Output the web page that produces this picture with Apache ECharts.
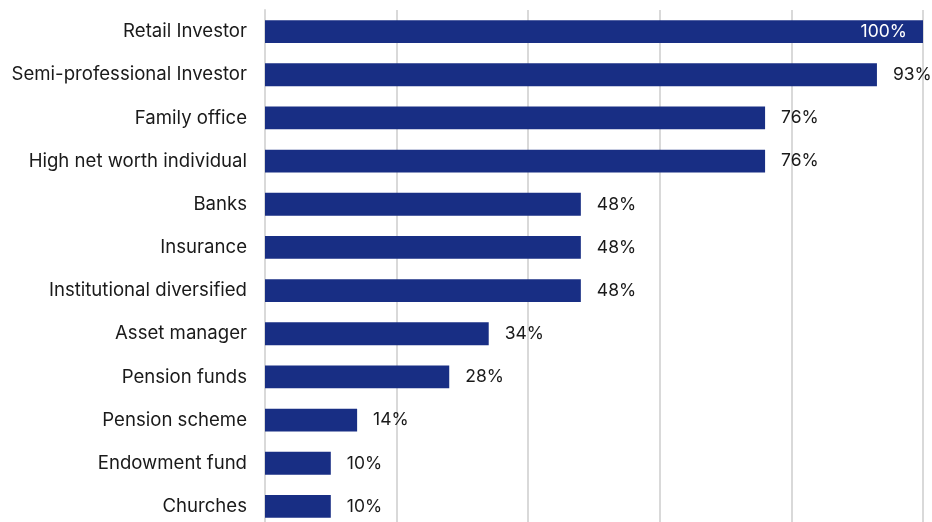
<!DOCTYPE html>
<html>
<head>
<meta charset="utf-8">
<style>
  html, body { margin: 0; padding: 0; background: #ffffff; }
  #chart { width: 932px; height: 522px; }
</style>
<script src="https://cdn.jsdelivr.net/npm/echarts@6/dist/echarts.min.js"></script>
</head>
<body>
<div id="chart"></div>
<script>
// Investor types, listed top to bottom
const categories = [
  'Retail Investor',
  'Semi-professional Investor',
  'Family office',
  'High net worth individual',
  'Banks',
  'Insurance',
  'Institutional diversified',
  'Asset manager',
  'Pension funds',
  'Pension scheme',
  'Endowment fund',
  'Churches'
];
// Share of respondents, percent
const shares = [100, 93, 76, 76, 48, 48, 48, 34, 28, 14, 10, 10];

const barColor = '#182e84';
const textColor = '#1a1a1a';
const fontFamily = 'Inter, "Noto Sans", sans-serif';

const chart = echarts.init(document.getElementById('chart'));

const data = shares.map(function (v) {
  const item = { value: v };
  if (v >= 100) {
    item.label = { position: 'insideRight', color: '#ffffff', distance: 16 };
  }
  return item;
});

chart.setOption({
  animation: false,
  grid: { left: 265, right: 9, top: 10, height: 518, outerBoundsMode: 'none' },
  xAxis: {
    type: 'value',
    min: 0,
    max: 100,
    interval: 20,
    axisLabel: { show: false },
    axisTick: { show: false },
    axisLine: { show: false },
    splitLine: { show: true, lineStyle: { color: '#d9d9d9', width: 2 } }
  },
  yAxis: {
    type: 'category',
    data: categories,
    inverse: true,
    axisTick: { show: false },
    axisLine: { show: true, lineStyle: { color: '#d9d9d9', width: 2 } },
    axisLabel: {
      color: textColor,
      fontFamily: fontFamily,
      fontSize: 18.6,
      margin: 18
    }
  },
  series: [{
    type: 'bar',
    data: data,
    barWidth: '53%',
    itemStyle: { color: barColor },
    label: {
      show: true,
      position: 'right',
      distance: 16,
      color: textColor,
      fontFamily: fontFamily,
      fontSize: 17.5,
      formatter: '{c}%'
    }
  }]
});
</script>
</body>
</html>
